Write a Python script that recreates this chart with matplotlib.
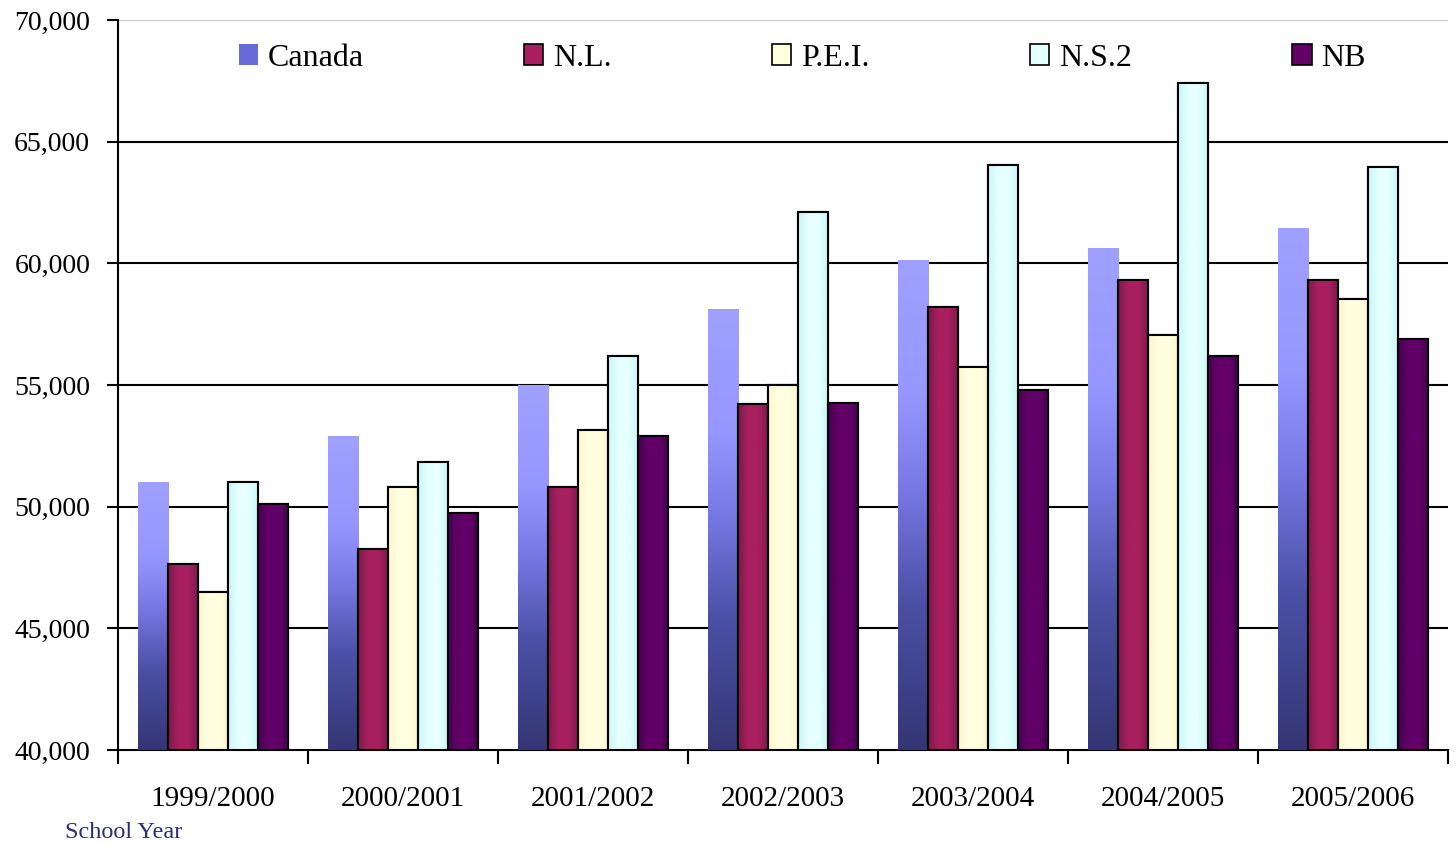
"""Average teacher salary by school year: Canada vs Atlantic provinces."""

import matplotlib

matplotlib.use("Agg")
import matplotlib.pyplot as plt
import numpy as np
from matplotlib.colors import LinearSegmentedColormap
from matplotlib.patches import Patch
from matplotlib.ticker import FuncFormatter

plt.rcParams["font.family"] = ["Liberation Serif", "DejaVu Serif"]

YEARS = ["1999/2000", "2000/2001", "2001/2002", "2002/2003", "2003/2004", "2004/2005", "2005/2006"]
SERIES = ["Canada", "N.L.", "P.E.I.", "N.S.2", "NB"]
CANADA = [51000, 52900, 55000, 58100, 60100, 60600, 61450]
NL = [47650, 48250, 50800, 54200, 58200, 59300, 59300]
PEI = [46500, 50800, 53150, 55000, 55750, 57050, 58550]
NS = [51000, 51850, 56200, 62100, 64050, 67400, 63950]
NB = [50100, 49750, 52900, 54250, 54800, 56200, 56900]

BASE = 40000
BAR_W = 0.158

# (edge colour, centre colour) for the horizontal shading of outlined bars
SHADES = {
    "N.L.": ("#7c1a4a", "#a82060"),
    "P.E.I.": ("#fbf6cc", "#ffffe0"),
    "N.S.2": ("#c8f6f8", "#e6ffff"),
    "NB": ("#460050", "#620068"),
}
CANADA_CMAP = LinearSegmentedColormap.from_list(
    "canada",
    [(0.0, "#343674"), (0.3, "#4b50a6"), (0.55, "#7b7be8"), (0.72, "#9696ff"), (1.0, "#a0a0ff")],
)


def draw_canada(ax, x, values):
    for xi, v in zip(x, values):
        grad = np.linspace(0, 1, 256).reshape(-1, 1)
        ax.imshow(grad, extent=[xi - BAR_W / 2, xi + BAR_W / 2, BASE, v],
                  origin="lower", aspect="auto", cmap=CANADA_CMAP, zorder=3)


def draw_outlined(ax, x, values, name):
    edge, centre = SHADES[name]
    cmap = LinearSegmentedColormap.from_list(name, [edge, centre, centre, edge])
    bars = ax.bar(x, np.array(values) - BASE, BAR_W, bottom=BASE, color=centre,
                  edgecolor="black", linewidth=1.5, zorder=3)
    for bar in bars:
        x0, y0 = bar.get_x(), bar.get_y()
        grad = np.linspace(0, 1, 64).reshape(1, -1)
        ax.imshow(grad, extent=[x0, x0 + bar.get_width(), y0, y0 + bar.get_height()],
                  origin="lower", aspect="auto", cmap=cmap, zorder=3.2)
    ax.bar(x, np.array(values) - BASE, BAR_W, bottom=BASE, fill=False,
           edgecolor="black", linewidth=1.5, zorder=3.5)


fig = plt.figure(figsize=(14.55, 8.44), dpi=100)
ax = fig.add_axes([0.0811, 0.1114, 0.9141, 0.8649])

idx = np.arange(len(YEARS))
data = [CANADA, NL, PEI, NS, NB]
for i, (name, values) in enumerate(zip(SERIES, data)):
    x = idx + (i - 2) * BAR_W
    if name == "Canada":
        draw_canada(ax, x, values)
    else:
        draw_outlined(ax, x, values, name)

ax.set_xlim(-0.5, len(YEARS) - 0.5)
ax.set_ylim(BASE, 70000)

for y in [45000, 50000, 55000, 60000, 65000]:
    ax.axhline(y, color="black", linewidth=1.5, zorder=1)
ax.axhline(70000, color="#c8c8c8", linewidth=1.5, zorder=1)

for side in ["top", "right"]:
    ax.spines[side].set_visible(False)
ax.spines["left"].set_linewidth(1.5)
ax.spines["bottom"].set_linewidth(1.5)

ax.set_yticks(np.arange(40000, 70001, 5000))
ax.yaxis.set_major_formatter(FuncFormatter(lambda v, _: f"{int(v):,}"))
ax.tick_params(axis="y", direction="out", length=8, width=1.5, pad=12, labelsize=20)

ax.set_xticks(np.arange(-0.5, len(YEARS)), labels=[])
ax.set_xticks(idx, labels=YEARS, minor=True)
ax.tick_params(axis="x", which="major", direction="out", length=10, width=1.5)
ax.tick_params(axis="x", which="minor", length=0, pad=26, labelsize=21)

handles = [Patch(facecolor="#6a6ad8", edgecolor="none")]
handles += [Patch(facecolor=SHADES[n][1], edgecolor="black", linewidth=1.2) for n in SERIES[1:]]
fig.legend(handles, SERIES, loc="center left", bbox_to_anchor=(0.164, 0.931),
           ncol=5, frameon=False, fontsize=23, handlelength=0.6, handleheight=0.6,
           handletextpad=0.3, columnspacing=5.03, borderpad=0, borderaxespad=0)

fig.text(0.0447, 0.0142, "School Year", fontsize=17.5, color="#2b2b7a", va="center")

fig.savefig("out.png", dpi=100)
